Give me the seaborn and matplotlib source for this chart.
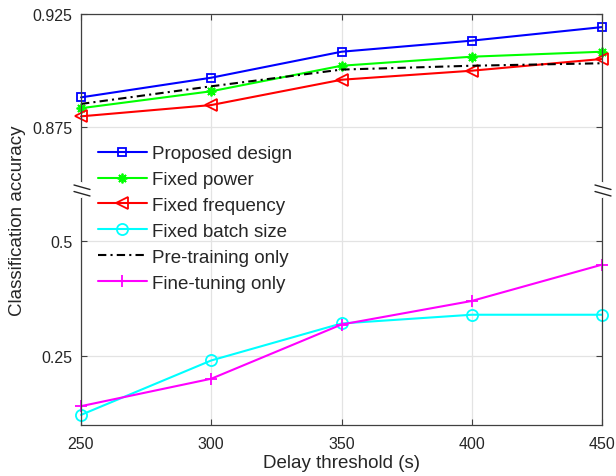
import matplotlib
matplotlib.use('Agg')
import matplotlib.pyplot as plt
from matplotlib.lines import Line2D
import seaborn as sns

# data
delays = [250, 300, 350, 400, 450]
proposed = [0.8881, 0.8968, 0.9083, 0.9132, 0.9192]
fixed_power = [0.8833, 0.8908, 0.9021, 0.9061, 0.9083]
fixed_freq = [0.8797, 0.8847, 0.8959, 0.8999, 0.9051]
fixed_batch = [0.122, 0.2405, 0.321, 0.340, 0.340]
pretrain_only = [0.8852, 0.8930, 0.9004, 0.9021, 0.9032]
finetune_only = [0.141, 0.2007, 0.3187, 0.370, 0.449]

labels = ['Proposed design', 'Fixed power', 'Fixed frequency',
          'Fixed batch size', 'Pre-training only', 'Fine-tuning only']
values = [proposed, fixed_power, fixed_freq, fixed_batch, pretrain_only, finetune_only]
panel = ['top', 'top', 'top', 'bot', 'top', 'bot']

top_ticks = [0.875, 0.925]
top_ticklabels = ['0.875', '0.925']
bot_ticks = [0.25, 0.5]
bot_ticklabels = ['0.25', '0.5']

styles = [
    dict(color='#0000ff', marker='s', markersize=6, linestyle='-'),
    dict(color='#00ff00', marker=(8, 2, 0), markersize=7, linestyle='-'),
    dict(color='#ff0000', marker='<', markersize=8, linestyle='-'),
    dict(color='#00ffff', marker='o', markersize=8, linestyle='-'),
    dict(color='#000000', marker=None, linestyle=(0, (4, 2, 1, 2))),
    dict(color='#ff00ff', marker='+', markersize=9, linestyle='-'),
]

sns.set_style('white')
plt.rcParams['font.family'] = ['Liberation Sans', 'DejaVu Sans']
TXT = '#262626'

W_PX, H_PX = 616, 477
fig = plt.figure(figsize=(W_PX / 100, H_PX / 100), dpi=100)

x0, x1 = 81, 602
y_top, y_brk, y_bot = 15, 191, 426
ax_top = fig.add_axes([x0 / W_PX, 1 - y_brk / H_PX, (x1 - x0) / W_PX, (y_brk - y_top) / H_PX])
ax_bot = fig.add_axes([x0 / W_PX, 1 - y_bot / H_PX, (x1 - x0) / W_PX, (y_bot - y_brk) / H_PX])

handles = {}
for lab, vals, where, st in zip(labels, values, panel, styles):
    ax = ax_top if where == 'top' else ax_bot
    st = dict(st)
    col = st.pop('color')
    sns.lineplot(x=delays, y=vals, ax=ax, color=col, linewidth=1.5,
                 markerfacecolor='none', markeredgecolor=col,
                 markeredgewidth=1.3, clip_on=False, label=lab, **st)
    handles[lab] = ax.get_lines()[-1]

for ax in (ax_top, ax_bot):
    if ax.get_legend() is not None:
        ax.get_legend().remove()
    ax.set_xlim(250, 450)
    ax.set_xticks(delays)
    ax.grid(True, color='#e3e3e3', linewidth=0.9)
    ax.set_axisbelow(True)
    for sp in ax.spines.values():
        sp.set_color('#404040')
        sp.set_linewidth(0.9)
    ax.tick_params(axis='y', direction='in', left=True, right=True, length=4.5,
                   labelsize=11.5, pad=6, colors='#404040', labelcolor=TXT)

ax_top.set_ylim(0.8471, 0.925)
ax_top.set_yticks(top_ticks)
ax_top.set_yticklabels(top_ticklabels)
ax_top.spines['bottom'].set_visible(False)
ax_top.tick_params(axis='x', direction='in', top=True, bottom=False,
                   labelbottom=False, length=4.5, colors='#404040')

ax_bot.set_ylim(0.1, 0.6115)
ax_bot.set_yticks(bot_ticks)
ax_bot.set_yticklabels(bot_ticklabels)
ax_bot.spines['top'].set_visible(False)
ax_bot.tick_params(axis='x', direction='in', top=False, bottom=True,
                   length=4.5, labelsize=11.5, pad=8, colors='#404040', labelcolor=TXT)
ax_bot.set_xlabel('Delay threshold (s)', fontsize=13.5, color=TXT, labelpad=2)

fig.text(18 / W_PX, 1 - 221 / H_PX, 'Classification accuracy', rotation=90,
         ha='center', va='center', fontsize=13.5, color=TXT)


# break marks on both spines
def px(x, y):
    return x / W_PX, 1 - y / H_PX


for sx in (x0, x1):
    xa, ya = px(sx, 185)
    xb, yb = px(sx, 197)
    fig.add_artist(Line2D([xa, xb], [ya, yb], color='white', linewidth=3,
                          transform=fig.transFigure))
    for dy in (0, 6.5):
        p1 = px(sx - 7, 186 + dy)
        p2 = px(sx + 9, 190.5 + dy)
        fig.add_artist(Line2D([p1[0], p2[0]], [p1[1], p2[1]], color='#262626',
                              linewidth=1.0, transform=fig.transFigure))

lx, ly = px(98, 146)
fig.legend([handles[l] for l in labels], labels, loc='upper left',
           bbox_to_anchor=(lx, ly), bbox_transform=fig.transFigure,
           frameon=False, fontsize=13.5, handlelength=2.6, handletextpad=0.3,
           labelspacing=0.47, borderpad=0, borderaxespad=0, labelcolor=TXT)

fig.savefig('out.png', dpi=100)
